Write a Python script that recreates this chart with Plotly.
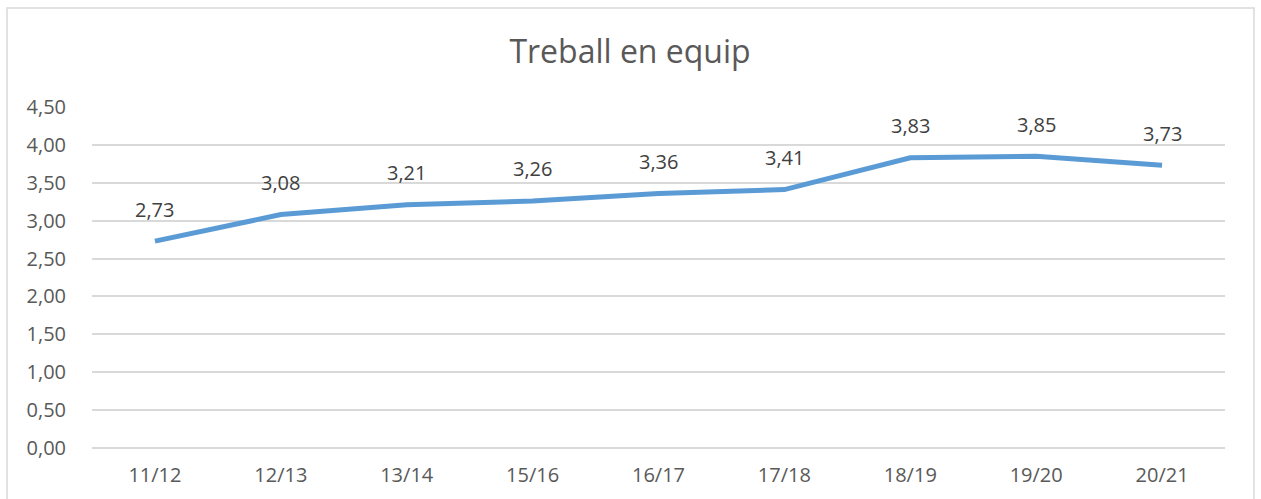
import plotly.graph_objects as go

categories = ["11/12", "12/13", "13/14", "15/16", "16/17", "17/18", "18/19", "19/20", "20/21"]
values = [2.73, 3.08, 3.21, 3.26, 3.36, 3.41, 3.83, 3.85, 3.73]
y_ticks = [0, 0.5, 1.0, 1.5, 2.0, 2.5, 3.0, 3.5, 4.0, 4.5]
title_text = "Treball en equip"

FONT = "Open Sans"
AXIS_COLOR = "#595959"
LABEL_COLOR = "#404040"
LINE_COLOR = "#5B9BD5"
GRID = "#D9D9D9"

fig = go.Figure()
fig.add_trace(go.Scatter(
    x=categories, y=values, mode="lines",
    line=dict(color=LINE_COLOR, width=5),
    hoverinfo="skip", showlegend=False,
))

for c, v in zip(categories, values):
    fig.add_annotation(
        x=c, y=v, text=f"{v:.2f}".replace(".", ","),
        showarrow=False, yshift=32,
        font=dict(family=FONT, size=20, color=LABEL_COLOR),
    )

W, H = 1261, 499
ml, mr, mt, mb = 92, 36, 107, 51
pw, ph = W - ml - mr, H - mt - mb
fig.add_shape(
    type="rect", xref="paper", yref="paper",
    x0=(7 - ml) / pw, x1=(1254 - ml) / pw,
    y0=(H - mb - 520) / ph, y1=(H - mb - 8) / ph,
    line=dict(color="#D9D9D9", width=1.5), layer="below",
)

fig.update_layout(
    width=W, height=H,
    margin=dict(l=ml, r=mr, t=mt, b=mb),
    paper_bgcolor="white", plot_bgcolor="white",
    separators=",.",
    title=dict(text=title_text, x=630 / W, xanchor="center",
               y=1 - 52 / H, yanchor="middle",
               font=dict(family=FONT, size=32, color=AXIS_COLOR)),
    font=dict(family=FONT, color=AXIS_COLOR),
    xaxis=dict(
        type="category", range=[-0.5, len(categories) - 0.5],
        showgrid=False, showline=False, zeroline=False,
        ticks="", tickfont=dict(family=FONT, size=20, color=AXIS_COLOR),
        ticklabelstandoff=13,
    ),
    yaxis=dict(
        range=[0, 4.5], tickvals=y_ticks, tickformat=".2f",
        showgrid=True, gridcolor=GRID, gridwidth=1.5,
        zeroline=True, zerolinecolor=GRID, zerolinewidth=1.5,
        showline=False, ticks="",
        tickfont=dict(family=FONT, size=20, color=AXIS_COLOR),
        ticklabelstandoff=25,
    ),
)

fig.write_html("out.html", config={"displayModeBar": False},
               post_script="document.body.style.margin='0';")
